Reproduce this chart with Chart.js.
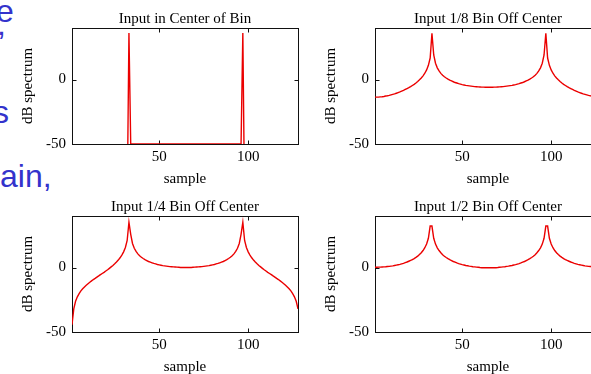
<!DOCTYPE html>
<html>
<head>
<meta charset="utf-8">
<script src="https://cdn.jsdelivr.net/npm/chart.js@4.4.1/dist/chart.umd.min.js"></script>
<style>
  html, body { margin: 0; padding: 0; background: #fff; }
  body { width: 591px; height: 374px; overflow: hidden; position: relative; }
  .panel { position: absolute; width: 300px; height: 190px; }
  .slide { position: absolute; font-family: "Liberation Sans", Arial, sans-serif; font-size: 32px; line-height: 32px; color: #3333cc; white-space: nowrap; }
</style>
</head>
<body>
<div class="slide" style="left:-4px; top:-5px">e</div>
<div class="slide" style="left:-3px; top:8px">,</div>
<div class="slide" style="left:-7px; top:96px">s</div>
<div class="slide" style="left:0px; top:160px">ain,</div>

<div class="panel" style="left:0; top:0"><canvas id="c1" width="300" height="190"></canvas></div>
<div class="panel" style="left:303px; top:0"><canvas id="c2" width="300" height="190"></canvas></div>
<div class="panel" style="left:0; top:188px"><canvas id="c3" width="300" height="190"></canvas></div>
<div class="panel" style="left:303px; top:188px"><canvas id="c4" width="300" height="190"></canvas></div>

<script>
// sample index 1..128 (FFT bins)
var samples = Array.from({ length: 128 }, function(_, i) { return i + 1; });

var xTicks = [50, 100];
var yTicks = [-50, 0];

// dB spectrum, input in the centre of a bin (off-bin values fall below the axis)
var centerBin = [
    -100, -100, -100, -100, -100, -100, -100, -100, -100, -100,
    -100, -100, -100, -100, -100, -100, -100, -100, -100, -100,
    -100, -100, -100, -100, -100, -100, -100, -100, -100, -100,
    -100, -100, 36.1, -50, -50, -50, -50, -50, -50, -50,
    -50, -50, -50, -50, -50, -50, -50, -50, -50, -50,
    -50, -50, -50, -50, -50, -50, -50, -50, -50, -50,
    -50, -50, -50, -50, -50, -50, -50, -50, -50, -50,
    -50, -50, -50, -50, -50, -50, -50, -50, -50, -50,
    -50, -50, -50, -50, -50, -50, -50, -50, -50, -50,
    -50, -50, -50, -50, -50, -50, 36.1, -100, -100, -100,
    -100, -100, -100, -100, -100, -100, -100, -100, -100, -100,
    -100, -100, -100, -100, -100, -100, -100, -100, -100, -100,
    -100, -100, -100, -100, -100, -100, -100, -100
];

var eighthBin = [
    -13.6, -13.6, -13.6, -13.4, -13.3, -13.1, -12.8, -12.6, -12.3, -11.9,
    -11.5, -11.1, -10.6, -10.1, -9.6, -9.0, -8.4, -7.7, -7.0, -6.3,
    -5.5, -4.6, -3.7, -2.7, -1.5, -0.2, 1.2, 2.9, 4.9, 7.5,
    11.0, 16.7, 35.9, 19.1, 12.7, 9.1, 6.7, 4.8, 3.4, 2.2,
    1.2, 0.3, -0.5, -1.1, -1.7, -2.3, -2.7, -3.2, -3.5, -3.9,
    -4.2, -4.5, -4.7, -4.9, -5.1, -5.3, -5.5, -5.6, -5.7, -5.8,
    -5.9, -5.9, -6.0, -6.0, -6.0, -6.0, -6.0, -5.9, -5.9, -5.8,
    -5.7, -5.6, -5.5, -5.3, -5.1, -4.9, -4.7, -4.5, -4.2, -3.9,
    -3.5, -3.2, -2.7, -2.3, -1.7, -1.1, -0.5, 0.3, 1.2, 2.2,
    3.4, 4.8, 6.7, 9.1, 12.7, 19.1, 35.9, 16.7, 11.0, 7.5,
    4.9, 2.9, 1.2, -0.2, -1.5, -2.7, -3.7, -4.6, -5.5, -6.3,
    -7.0, -7.7, -8.4, -9.0, -9.6, -10.1, -10.6, -11.1, -11.5, -11.9,
    -12.3, -12.6, -12.8, -13.1, -13.3, -13.4, -13.6, -13.6
];

var quarterBin = [
    -44.3, -32.1, -26.2, -22.7, -20.2, -18.1, -16.4, -15.0, -13.7, -12.5,
    -11.4, -10.3, -9.3, -8.4, -7.4, -6.5, -5.5, -4.6, -3.7, -2.7,
    -1.7, -0.6, 0.5, 1.6, 2.9, 4.3, 5.8, 7.6, 9.7, 12.2,
    15.6, 21.0, 35.2, 25.8, 18.7, 15.0, 12.5, 10.6, 9.2, 8.0,
    7.0, 6.1, 5.4, 4.7, 4.2, 3.7, 3.2, 2.8, 2.4, 2.1,
    1.8, 1.5, 1.3, 1.1, 0.9, 0.7, 0.6, 0.5, 0.4, 0.3,
    0.2, 0.1, 0.1, 0.1, 0.0, 0.1, 0.1, 0.1, 0.2, 0.3,
    0.4, 0.5, 0.6, 0.7, 0.9, 1.1, 1.3, 1.5, 1.8, 2.1,
    2.4, 2.8, 3.2, 3.7, 4.2, 4.7, 5.4, 6.1, 7.0, 8.0,
    9.2, 10.6, 12.5, 15.0, 18.7, 25.8, 35.2, 21.0, 15.6, 12.2,
    9.7, 7.6, 5.8, 4.3, 2.9, 1.6, 0.5, -0.6, -1.7, -2.7,
    -3.7, -4.6, -5.5, -6.5, -7.4, -8.4, -9.3, -10.3, -11.4, -12.5,
    -13.7, -15.0, -16.4, -18.1, -20.2, -22.7, -26.2, -32.1
];

var halfBin = [
    0.2, 0.2, 0.3, 0.3, 0.4, 0.5, 0.6, 0.8, 0.9, 1.1,
    1.3, 1.6, 1.9, 2.2, 2.5, 2.9, 3.3, 3.8, 4.3, 4.9,
    5.5, 6.2, 7.0, 7.9, 8.9, 10.1, 11.5, 13.2, 15.4, 18.3,
    22.7, 32.2, 32.2, 22.7, 18.2, 15.3, 13.2, 11.5, 10.0, 8.8,
    7.8, 6.9, 6.1, 5.4, 4.7, 4.2, 3.6, 3.1, 2.7, 2.3,
    2.0, 1.6, 1.4, 1.1, 0.9, 0.6, 0.5, 0.3, 0.2, 0.0,
    -0.1, -0.1, -0.2, -0.2, -0.2, -0.2, -0.2, -0.1, -0.1, 0.0,
    0.2, 0.3, 0.5, 0.6, 0.9, 1.1, 1.4, 1.6, 2.0, 2.3,
    2.7, 3.1, 3.6, 4.2, 4.7, 5.4, 6.1, 6.9, 7.8, 8.8,
    10.0, 11.5, 13.2, 15.3, 18.2, 22.7, 32.2, 32.2, 22.7, 18.3,
    15.4, 13.2, 11.5, 10.1, 8.9, 7.9, 7.0, 6.2, 5.5, 4.9,
    4.3, 3.8, 3.3, 2.9, 2.5, 2.2, 1.9, 1.6, 1.3, 1.1,
    0.9, 0.8, 0.6, 0.5, 0.4, 0.3, 0.3, 0.2
];

var serif = 'Liberation Serif, Times New Roman, serif';
var lineColor = 'rgb(235, 0, 0)';
var axisColor = '#111';

// box around the plot with inward tick marks, drawn under the line
var framePlugin = {
    id: 'frame',
    beforeDatasetsDraw: function(chart) {
        var ctx = chart.ctx;
        var a = chart.chartArea;
        var x = chart.scales.x;
        var y = chart.scales.y;
        var L = Math.round(a.left) + 0.5, R = Math.round(a.right) + 0.5;
        var T = Math.round(a.top) + 0.5, B = Math.round(a.bottom) + 0.5;
        ctx.save();
        ctx.strokeStyle = axisColor;
        ctx.lineWidth = 1;
        ctx.strokeRect(L, T, R - L, B - T);
        ctx.beginPath();
        xTicks.forEach(function(v) {
            var px = Math.round(x.getPixelForValue(v)) + 0.5;
            ctx.moveTo(px, B); ctx.lineTo(px, B - 4);
            ctx.moveTo(px, T); ctx.lineTo(px, T + 4);
        });
        yTicks.forEach(function(v) {
            var py = Math.round(y.getPixelForValue(v)) + 0.5;
            ctx.moveTo(L, py); ctx.lineTo(L + 4, py);
            ctx.moveTo(R, py); ctx.lineTo(R - 4, py);
        });
        ctx.stroke();
        ctx.restore();
    }
};

function titlePlugin(text) {
    return {
        id: 'panelTitle',
        afterDraw: function(chart) {
            var ctx = chart.ctx;
            var a = chart.chartArea;
            ctx.save();
            ctx.font = '15px ' + serif;
            ctx.fillStyle = '#000';
            ctx.textAlign = 'center';
            ctx.textBaseline = 'alphabetic';
            ctx.fillText(text, (a.left + a.right) / 2, a.top - 5);
            ctx.restore();
        }
    };
}

function makeChart(id, title, values) {
    var ctx = document.getElementById(id).getContext('2d');
    return new Chart(ctx, {
        type: 'line',
        data: {
            datasets: [{
                data: samples.map(function(s, i) { return { x: s, y: values[i] }; }),
                borderColor: lineColor,
                borderWidth: 1.4,
                pointRadius: 0,
                tension: 0,
                fill: false
            }]
        },
        options: {
            responsive: false,
            animation: false,
            layout: { padding: { left: 0, top: 28, right: 2, bottom: 0 } },
            plugins: {
                legend: { display: false },
                tooltip: { enabled: false },
                title: { display: false }
            },
            scales: {
                x: {
                    type: 'linear',
                    min: 1,
                    max: 128,
                    afterBuildTicks: function(s) { s.ticks = xTicks.map(function(v) { return { value: v }; }); },
                    afterFit: function(s) { s.height = 46; },
                    grid: { display: false, drawTicks: false },
                    border: { display: false },
                    ticks: { color: '#000', padding: 4, maxRotation: 0, font: { family: serif, size: 15 } },
                    title: {
                        display: true,
                        text: 'sample',
                        color: '#000',
                        font: { family: serif, size: 15, lineHeight: 1 },
                        padding: { top: 0, bottom: 3 }
                    }
                },
                y: {
                    min: -50,
                    max: 40,
                    afterBuildTicks: function(s) { s.ticks = yTicks.map(function(v) { return { value: v }; }); },
                    afterFit: function(s) { s.width = 72; },
                    grid: { display: false, drawTicks: false },
                    border: { display: false },
                    ticks: { color: '#000', padding: 6, font: { family: serif, size: 15 } },
                    title: {
                        display: true,
                        text: 'dB spectrum',
                        color: '#000',
                        font: { family: serif, size: 15, lineHeight: 1 },
                        padding: { top: 21, bottom: 0 }
                    }
                }
            }
        },
        plugins: [framePlugin, titlePlugin(title)]
    });
}

makeChart('c1', 'Input in Center of Bin', centerBin);
makeChart('c2', 'Input 1/8 Bin Off Center', eighthBin);
makeChart('c3', 'Input 1/4 Bin Off Center', quarterBin);
makeChart('c4', 'Input 1/2 Bin Off Center', halfBin);
</script>
</body>
</html>
